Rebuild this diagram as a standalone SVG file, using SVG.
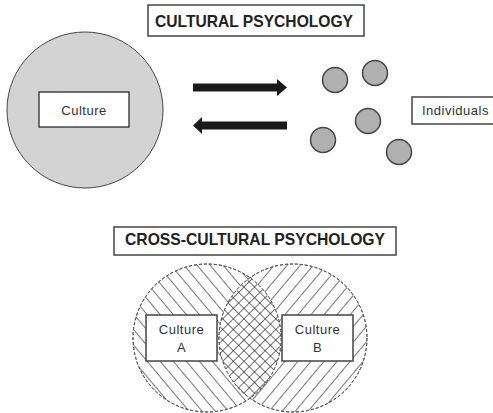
<svg xmlns="http://www.w3.org/2000/svg" width="493" height="413" viewBox="0 0 493 413">
  <style>
    .box { fill: #ffffff; stroke: #444444; stroke-width: 1.5; }
    .title { font-family: "Liberation Sans", Arial, sans-serif; font-weight: bold; font-size: 17px; fill: #222222; }
    .lbl { font-family: "Liberation Sans", Arial, sans-serif; font-size: 13px; fill: #333333; letter-spacing: 0.5px; }
    .ind { fill: #b0b0b0; stroke: #444444; stroke-width: 1.5; }
    .venn { stroke: #555555; stroke-width: 1; stroke-dasharray: 3 2; }
    .arrow { fill: #1a1a1a; }
  </style>
  <defs>
    <pattern id="hatchL" patternUnits="userSpaceOnUse" width="10" height="10" patternTransform="rotate(-40)">
      <line x1="0" y1="0" x2="0" y2="10" stroke="#2a2a2a" stroke-width="1.3"/>
    </pattern>
    <pattern id="hatchR" patternUnits="userSpaceOnUse" width="10" height="10" patternTransform="rotate(40)">
      <line x1="0" y1="0" x2="0" y2="10" stroke="#2a2a2a" stroke-width="1.3"/>
    </pattern>
    <pattern id="cross" patternUnits="userSpaceOnUse" width="7.5" height="7.5" patternTransform="rotate(45)">
      <rect width="7.5" height="7.5" fill="#ffffff"/>
      <line x1="0" y1="0" x2="0" y2="7.5" stroke="#2a2a2a" stroke-width="1.3"/>
      <line x1="0" y1="0" x2="7.5" y2="0" stroke="#2a2a2a" stroke-width="1.3"/>
    </pattern>
    <clipPath id="clipR">
      <circle cx="293" cy="338" r="74"/>
    </clipPath>
  </defs>

  <g id="title-cultural">
    <rect class="box" x="148" y="5" width="216" height="31"/>
    <text class="title" x="254" y="27" text-anchor="middle" textLength="198" lengthAdjust="spacingAndGlyphs">CULTURAL PSYCHOLOGY</text>
  </g>

  <g id="culture">
    <circle cx="85" cy="110" r="78" fill="#d3d3d3" stroke="#444444" stroke-width="1"/>
    <rect class="box" x="39" y="92" width="90" height="35"/>
    <text class="lbl" x="84" y="115" text-anchor="middle">Culture</text>
  </g>

  <g id="individuals">
    <circle class="ind" cx="335" cy="80" r="12.5"/>
    <circle class="ind" cx="375" cy="73" r="12.5"/>
    <circle class="ind" cx="368" cy="121" r="12.5"/>
    <circle class="ind" cx="323" cy="140" r="12.5"/>
    <circle class="ind" cx="399" cy="152" r="12.5"/>
    <rect class="box" x="412" y="97" width="82" height="27"/>
    <text class="lbl" x="422" y="115">Individuals</text>
  </g>

  <g id="connectors">
    <polygon class="arrow" points="193,83.5 277,83.5 277,79 287,87.5 277,96 277,91.5 193,91.5"/>
    <polygon class="arrow" points="287,121.5 202,121.5 202,117 193,125.5 202,134 202,129.5 287,129.5"/>
  </g>

  <g id="title-cross">
    <rect class="box" x="114" y="227" width="282" height="28"/>
    <text class="title" x="255" y="245" text-anchor="middle" textLength="260" lengthAdjust="spacingAndGlyphs">CROSS-CULTURAL PSYCHOLOGY</text>
  </g>

  <g id="venn">
    <circle class="venn" cx="207" cy="338" r="74" fill="url(#hatchL)"/>
    <circle class="venn" cx="293" cy="338" r="74" fill="url(#hatchR)"/>
    <circle cx="207" cy="338" r="74" fill="url(#cross)" clip-path="url(#clipR)"/>
    <circle class="venn" cx="207" cy="338" r="74" fill="none"/>
    <circle class="venn" cx="293" cy="338" r="74" fill="none"/>
  </g>

  <g id="culture-a">
    <rect class="box" x="146" y="315" width="71" height="46"/>
    <text class="lbl" x="181.5" y="334" text-anchor="middle">Culture</text>
    <text class="lbl" x="181.5" y="352" text-anchor="middle">A</text>
  </g>

  <g id="culture-b">
    <rect class="box" x="282" y="315" width="71" height="46"/>
    <text class="lbl" x="317.5" y="334" text-anchor="middle">Culture</text>
    <text class="lbl" x="317.5" y="352" text-anchor="middle">B</text>
  </g>
</svg>
